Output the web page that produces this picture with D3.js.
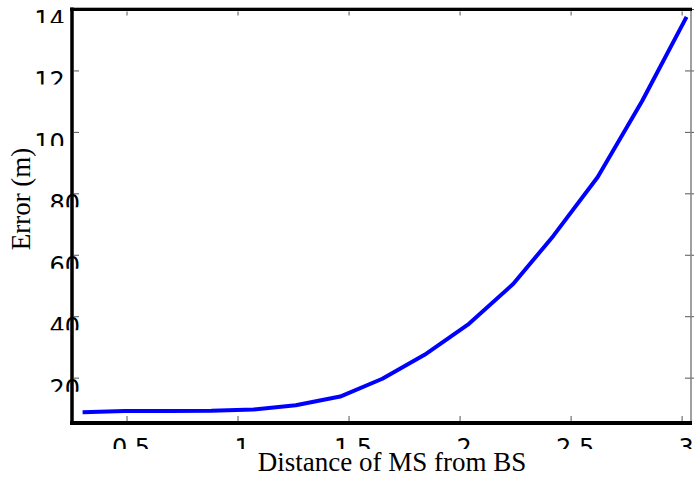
<!DOCTYPE html>
<html><head><meta charset="utf-8">
<script src="https://cdn.jsdelivr.net/npm/d3@7"></script>
<style>html,body{margin:0;padding:0;background:#fff;}svg{display:block;}</style>
</head><body>
<svg id="c" width="695" height="477"></svg>
<script>
// Data
const distance = [0.30, 0.49, 0.69, 0.88, 1.07, 1.26, 1.46, 1.65, 1.84, 2.04, 2.24, 2.42, 2.62, 2.82, 3.02];
const errorM   = [8.9, 9.3, 9.3, 9.35, 9.8, 11.2, 14.0, 19.8, 27.6, 37.7, 50.7, 66.3, 85.5, 110.2, 137.6];
const xTicks = [0.5, 1, 1.5, 2, 2.5, 3];
const xTickLabels = ["0.5", "1", "1.5", "2", "2.5", "3"];
const yTicks = [20, 40, 60, 80, 100, 120, 140];
const yTickLabels = ["20", "40", "60", "80", "100", "120", "140"];
const xTitle = "Distance of MS from BS";
const yTitle = "Error (m)";

const svg = d3.select("#c");
const L = 72, R = 691, T = 9.5, B = 423;
const x = d3.scaleLinear().domain([0.2523, 3.040]).range([L, R]);
const y = d3.scaleLinear().domain([5.4, 140]).range([B, T]);
const defs = svg.append("defs");

// data line
const line = d3.line().x((d, i) => x(distance[i])).y(d => y(d));
svg.append("path").datum(errorM).attr("d", line)
  .attr("fill", "none").attr("stroke", "#0000ff").attr("stroke-width", 4)
  .attr("stroke-linejoin", "round").attr("stroke-linecap", "butt");

// ticks (inward, all sides)
const tk = svg.append("g").attr("stroke", "#555").attr("stroke-width", 1);
xTicks.forEach(t => {
  tk.append("line").attr("x1", x(t)).attr("x2", x(t)).attr("y1", B - 2).attr("y2", B - 7);
  tk.append("line").attr("x1", x(t)).attr("x2", x(t)).attr("y1", T + 2).attr("y2", T + 6);
});
yTicks.forEach(t => {
  tk.append("line").attr("x1", L + 2).attr("x2", L + 7).attr("y1", y(t)).attr("y2", y(t));
  tk.append("line").attr("x1", R - 6).attr("x2", R + 3).attr("y1", y(t)).attr("y2", y(t));
});

// frame
svg.append("line").attr("x1", R).attr("x2", R).attr("y1", T).attr("y2", B)
  .attr("stroke", "#808080").attr("stroke-width", 1.5);
svg.append("line").attr("x1", L - 2).attr("x2", R + 1).attr("y1", T - 1.5).attr("y2", T - 1.5)
  .attr("stroke", "#999").attr("stroke-width", 1.5);
svg.append("line").attr("x1", L - 2).attr("x2", R + 1).attr("y1", T).attr("y2", T)
  .attr("stroke", "#000").attr("stroke-width", 3);
svg.append("line").attr("x1", L).attr("x2", L).attr("y1", T - 2).attr("y2", B + 2)
  .attr("stroke", "#000").attr("stroke-width", 3.5);
svg.append("line").attr("x1", L - 2).attr("x2", R + 1).attr("y1", B).attr("y2", B)
  .attr("stroke", "#000").attr("stroke-width", 4);

// y tick labels (clipped boxes, as in the reference)
const fs = 24;
yTicks.forEach((t, i) => {
  const id = "yc" + i;
  const txt = svg.append("text").attr("x", 80).attr("y", y(t) + 18.5)
    .attr("text-anchor", "end").attr("font-family", "DejaVu Sans").attr("font-size", fs)
    .attr("fill", "#000").text(yTickLabels[i]);
  const len = txt.node().getComputedTextLength();
  const x0 = 80 - len;
  defs.append("clipPath").attr("id", id).append("rect")
    .attr("x", x0 - 2).attr("y", y(t) - 5).attr("width", 33).attr("height", 18.5);
  txt.attr("clip-path", "url(#" + id + ")");
});
// x tick labels
defs.append("clipPath").attr("id", "xc").append("rect")
  .attr("x", 0).attr("y", B + 5).attr("width", 695).attr("height", 449 - B - 5);
const xl = svg.append("g").attr("clip-path", "url(#xc)");
xTicks.forEach((t, i) => {
  xl.append("text").attr("x", x(t) + 4).attr("y", 456)
    .attr("text-anchor", "middle").attr("font-family", "DejaVu Sans").attr("font-size", fs)
    .attr("fill", "#000").text(xTickLabels[i]);
});

// axis titles
svg.append("text").attr("x", 392).attr("y", 471).attr("text-anchor", "middle")
  .attr("font-family", "Liberation Serif").attr("font-size", 27).attr("fill", "#000").text(xTitle);
svg.append("text").attr("transform", "translate(30,199) rotate(-90)").attr("text-anchor", "middle")
  .attr("font-family", "Liberation Serif").attr("font-size", 27).attr("fill", "#000").text(yTitle);
</script>
</body></html>
